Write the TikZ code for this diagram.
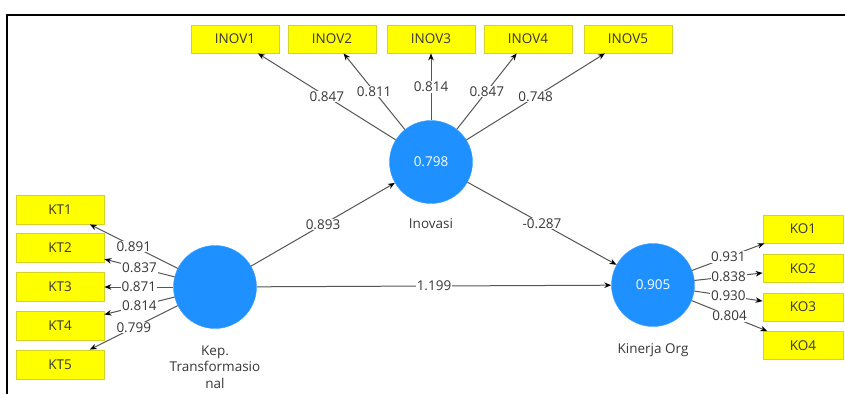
\documentclass[tikz,border=0pt]{standalone}
\usepackage{fontspec}
\setmainfont{Open Sans}
\usetikzlibrary{arrows.meta}
\definecolor{lv}{RGB}{30,144,255}
\definecolor{ybox}{RGB}{255,255,0}
\definecolor{ybord}{RGB}{210,210,40}
\definecolor{lnc}{RGB}{85,85,85}
\definecolor{txc}{RGB}{55,55,55}
\begin{document}
\begin{tikzpicture}[x=1pt,y=-1pt,
  ind/.style={draw=ybord, fill=ybox, line width=0.8pt, minimum width=88pt, minimum height=28pt, inner sep=0pt, font=\fontsize{13.5}{15}\selectfont, text=txc},
  lat/.style={circle, fill=lv, draw=lv!85!white, minimum size=83pt, inner sep=0pt, text=white, font=\fontsize{13.5}{15}\selectfont},
  ld/.style={draw=lnc, line width=1pt, -{Stealth[length=7pt,width=5.5pt,color=black]}},
  val/.style={fill=white, inner sep=0.8pt, font=\fontsize{13.5}{15}\selectfont, text=txc},
  lvname/.style={font=\fontsize{13.5}{16.5}\selectfont, text=txc, align=center},
]
\useasboundingbox (0,0) rectangle (845,394);
\draw[line width=1.2pt] (7,394) -- (7,15) -- (845,15);

% latent variables
\node[lat] (kep) at (215,287) {};
\node[lat] (inov) at (431,162) {0.798};
\node[lat] (kin) at (653,285) {0.905};

\node[lvname] (inovname) at (431,224) {Inovasi};
\node[lvname] (kepname) at (215,367) {Kep.\\Transformasio\\nal};
\node[lvname] (kinname) at (653,350) {Kinerja Org};

% indicators
\node[ind] (i1) at (235,39) {INOV1};
\node[ind] (i2) at (332,39) {INOV2};
\node[ind] (i3) at (431,39) {INOV3};
\node[ind] (i4) at (528,39) {INOV4};
\node[ind] (i5) at (628,39) {INOV5};

\node[ind, minimum height=29pt] (kt1) at (60,209.5) {KT1};
\node[ind, minimum height=29pt] (kt2) at (60,248) {KT2};
\node[ind, minimum height=29pt] (kt3) at (60,287) {KT3};
\node[ind, minimum height=29pt] (kt4) at (60,325.5) {KT4};
\node[ind, minimum height=29pt] (kt5) at (60,364.5) {KT5};

\node[ind, minimum width=80pt] (ko1) at (803,229) {KO1};
\node[ind, minimum width=80pt] (ko2) at (803,268.5) {KO2};
\node[ind, minimum width=80pt] (ko3) at (803,307) {KO3};
\node[ind, minimum width=80pt] (ko4) at (803,345.5) {KO4};

% outer loadings
\draw[ld] (inov) -- node[val] {0.847} (i1);
\draw[ld] (inov) -- node[val] {0.811} (i2);
\draw[ld] (inov) -- node[val] {0.814} (i3);
\draw[ld] (inov) -- node[val] {0.847} (i4);
\draw[ld] (inov) -- node[val] {0.748} (i5);

\draw[ld] (kep) -- node[val] {0.891} (kt1);
\draw[ld] (kep) -- node[val] {0.837} (kt2);
\draw[ld] (kep) -- node[val] {0.871} (kt3);
\draw[ld] (kep) -- node[val] {0.814} (kt4);
\draw[ld] (kep) -- node[val] {0.799} (kt5);

\draw[ld] (kin) -- node[val] {0.931} (ko1);
\draw[ld] (kin) -- node[val] {0.838} (ko2);
\draw[ld] (kin) -- node[val] {0.930} (ko3);
\draw[ld] (kin) -- node[val] {0.804} (ko4);

% path coefficients
\draw[ld] (kep) -- node[val] {0.893} (inov);
\draw[ld] (inov) -- node[val] {-0.287} (kin);
\draw[ld] (kep) -- node[val] {1.199} (kin);
\end{tikzpicture}
\end{document}
